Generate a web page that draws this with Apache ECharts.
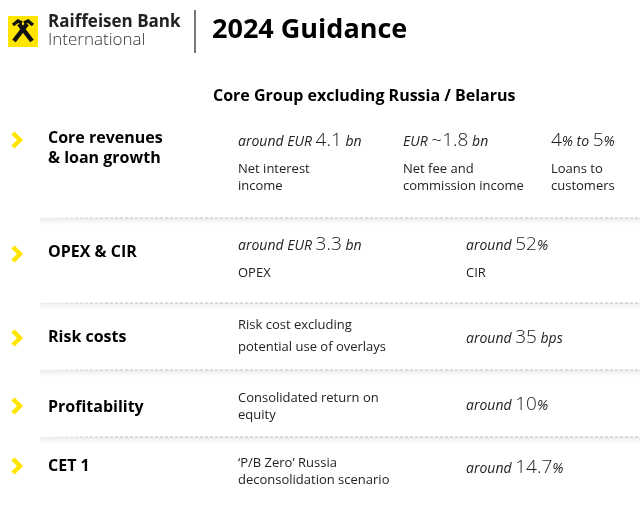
<!DOCTYPE html>
<html>
<head>
<meta charset="utf-8">
<script src="https://cdn.jsdelivr.net/npm/echarts@6/dist/echarts.min.js"></script>
<style>
  html, body { margin: 0; padding: 0; background: #fff; }
  #main { width: 640px; height: 509px; }
</style>
</head>
<body>
<div id="main"></div>
<script>
// 表格数据
var brandName = ['Raiffeisen Bank', 'International']
var pageTitle = '2024 Guidance'
var subTitle = 'Core Group excluding Russia / Belarus'
var rowTitles = ['Core revenues\n& loan growth', 'OPEX & CIR', 'Risk costs', 'Profitability', 'CET 1']
var guidanceValues = [
    ['around EUR 4.1 bn', 'EUR ~1.8 bn', '4% to 5%'],
    ['around EUR 3.3 bn', 'around 52%'],
    ['around 35 bps'],
    ['around 10%'],
    ['around 14.7%']
]
var guidanceLabels = [
    ['Net interest\nincome', 'Net fee and\ncommission income', 'Loans to\ncustomers'],
    ['OPEX', 'CIR'],
    ['Risk cost excluding\npotential use of overlays'],
    ['Consolidated return on\nequity'],
    ['\u2018P/B Zero\u2019 Russia\ndeconsolidation scenario']
]

var YELLOW = '#FFE500'
var FONT = '"Open Sans", "Noto Sans", sans-serif'

// 每行的布局（像素）
var rowLayout = [
    { chevron: 140, title: 148, valueY: 141, valueX: [238, 403, 551], labelY: 169, labelX: [238, 403, 551], lh: 17 },
    { chevron: 254, title: 252, valueY: 245, valueX: [238, 466], labelY: 273, labelX: [238, 466], lh: 17 },
    { chevron: 338, title: 337, valueY: 338, valueX: [466], labelY: 325, labelX: [238], lh: 22 },
    { chevron: 406, title: 407, valueY: 405, valueX: [466], labelY: 398, labelX: [238], lh: 17 },
    { chevron: 466, title: 466, valueY: 468, valueX: [466], labelY: 463, labelX: [238], lh: 17 }
]
var separatorY = [218, 303, 370, 437]

function richValue(s) {
    return s.split(/(~?\d[\d.]*)/).map(function(p, i) {
        if (!p) return ''
        return i % 2 ? '{n|' + p + '}' : '{s|' + p + '}'
    }).join('')
}

var graphics = []

// logo
graphics.push({ type: 'rect', shape: { x: 8, y: 16, width: 30, height: 31 }, style: { fill: YELLOW } })
graphics.push({ type: 'polyline', shape: { points: [[14, 41], [27, 24]] }, style: { stroke: '#111', lineWidth: 4.5, fill: null } })
graphics.push({ type: 'polyline', shape: { points: [[32, 41], [19, 24]] }, style: { stroke: '#111', lineWidth: 4.5, fill: null } })
graphics.push({ type: 'polyline', shape: { points: [[24, 23], [28, 21], [33, 25]] }, style: { stroke: '#111', lineWidth: 3.5, fill: null } })
graphics.push({ type: 'polyline', shape: { points: [[22, 23], [18, 21], [13, 25]] }, style: { stroke: '#111', lineWidth: 3.5, fill: null } })
graphics.push({ type: 'text', style: { text: brandName[0], x: 48, y: 22, font: 'bold 17px ' + FONT, fill: '#222', verticalAlign: 'middle' } })
graphics.push({ type: 'text', style: { text: brandName[1], x: 48, y: 40, font: '300 17px ' + FONT, fill: '#333', verticalAlign: 'middle' } })
graphics.push({ type: 'line', shape: { x1: 195, y1: 10, x2: 195, y2: 53 }, style: { stroke: '#777', lineWidth: 2 } })
graphics.push({ type: 'text', style: { text: pageTitle, x: 212, y: 30, font: 'bold 27px ' + FONT, fill: '#000', verticalAlign: 'middle' } })
graphics.push({ type: 'text', style: { text: subTitle, x: 213, y: 96, font: 'bold 16px ' + FONT, fill: '#000', verticalAlign: 'middle' } })

// 分隔线
separatorY.forEach(function(y) {
    graphics.push({
        type: 'rect', shape: { x: 40, y: y, width: 600, height: 7 },
        style: { fill: new echarts.graphic.LinearGradient(0, 0, 0, 1, [
            { offset: 0, color: 'rgba(0,0,0,0.07)' }, { offset: 1, color: 'rgba(0,0,0,0)' }
        ]) }
    })
    graphics.push({
        type: 'line', shape: { x1: 40, y1: y, x2: 640, y2: y },
        style: { stroke: new echarts.graphic.LinearGradient(0, 0, 1, 0, [
            { offset: 0, color: 'rgba(190,190,190,0)' }, { offset: 0.12, color: 'rgba(190,190,190,1)' }, { offset: 1, color: 'rgba(190,190,190,1)' }
        ]), lineWidth: 1, lineDash: [3, 2] }
    })
})

// 各行
rowTitles.forEach(function(title, i) {
    var lay = rowLayout[i]
    var cy = lay.chevron
    graphics.push({
        type: 'polyline', shape: { points: [[13, cy - 7], [20, cy], [13, cy + 7]] },
        style: { stroke: YELLOW, lineWidth: 4.5, fill: null }
    })
    graphics.push({
        type: 'text',
        style: { text: title, x: 48, y: lay.title, font: 'bold 16px ' + FONT, fill: '#000', verticalAlign: 'middle', lineHeight: 20 }
    })
    guidanceValues[i].forEach(function(v, j) {
        graphics.push({
            type: 'text',
            style: {
                text: richValue(v), x: lay.valueX[j], y: lay.valueY, verticalAlign: 'middle', fill: '#222',
                rich: {
                    s: { font: 'italic 14px ' + FONT, fill: '#222', verticalAlign: 'bottom', padding: [0, 0, 1, 0] },
                    n: { font: '300 19px ' + FONT, fill: '#222', verticalAlign: 'bottom' }
                }
            }
        })
    })
    guidanceLabels[i].forEach(function(l, j) {
        graphics.push({
            type: 'text',
            style: { text: l, x: lay.labelX[j], y: lay.labelY - lay.lh / 2, font: '13px ' + FONT, fill: '#222', verticalAlign: 'top', lineHeight: lay.lh }
        })
    })
})

var chart = echarts.init(document.getElementById('main'))
chart.setOption({
    backgroundColor: '#fff',
    animation: false,
    graphic: graphics
})
</script>
</body>
</html>
